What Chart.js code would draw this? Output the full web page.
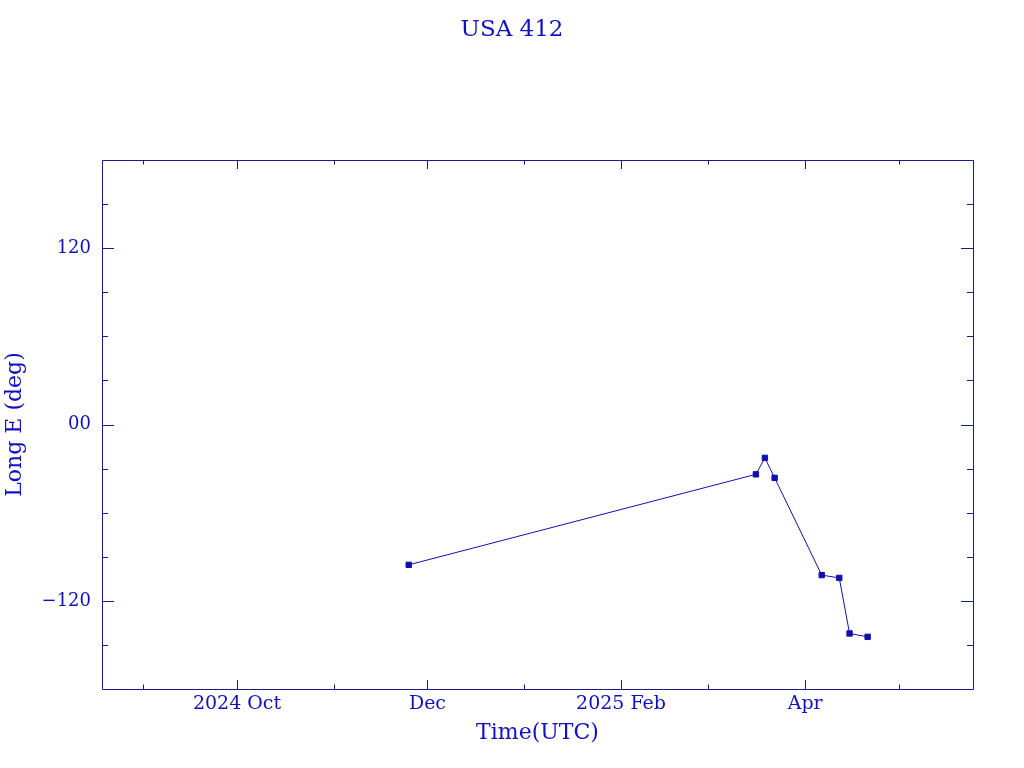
<!DOCTYPE html>
<html>
<head>
<meta charset="utf-8">
<title>USA 412</title>
<script src="https://cdn.jsdelivr.net/npm/chart.js@4"></script>
<style>
  html, body { margin: 0; padding: 0; background: #fff; }
  #wrap { width: 1024px; height: 768px; }
</style>
</head>
<body>
<div id="wrap"><canvas id="lonChart"></canvas></div>
<script>
const obsTimes = ['2024-11-25T00:00', '2025-03-16T05:00', '2025-03-19T02:00', '2025-03-22T05:00',
  '2025-04-06T07:00', '2025-04-11T22:00', '2025-04-15T05:00', '2025-04-21T00:00'];
const longE = [-95.5, -33.9, -22.7, -36.3, -102.5, -104.4, -142.2, -144.5];

const xRange = ['2024-08-18T18:00', '2025-05-24T18:00'];
const monthTicks = ['2024-09-01', '2024-10-01', '2024-11-01', '2024-12-01', '2025-01-01',
  '2025-02-01', '2025-03-01', '2025-04-01', '2025-05-01'];
const monthLabels = ['', '2024 Oct', '', 'Dec', '', '2025 Feb', '', 'Apr', ''];

const yRange = [-180, 180];
const yTicks = [-150, -120, -90, -60, -30, 0, 30, 60, 90, 120, 150];
const yLabels = ['', '\u2212120', '', '', '', '00', '', '', '', '120', ''];

const COL = {
  text: '#1010c0',
  axis: '#1a1a8c',
  line: '#1010b0'
};
const FONT = 'DejaVu Serif';

function ms(str) {
  return Date.parse(str + (str.length === 10 ? 'T00:00:00Z' : ':00Z'));
}

const points = obsTimes.map((t, i) => ({ x: ms(t), y: longE[i] }));
const xTickVals = monthTicks.map(ms);
const xLabelOf = {};
xTickVals.forEach((v, i) => { xLabelOf[v] = monthLabels[i]; });
const yLabelOf = {};
yTicks.forEach((v, i) => { yLabelOf[v] = yLabels[i]; });

// pgplot-style frame: box with inward ticks on all four sides
const framePlugin = {
  id: 'frame',
  afterDraw(chart) {
    const { ctx, chartArea: a, scales } = chart;
    ctx.save();
    ctx.strokeStyle = COL.axis;
    ctx.lineWidth = 1;
    ctx.beginPath();
    ctx.rect(Math.round(a.left) + 0.5, Math.round(a.top) + 0.5,
      Math.round(a.right - a.left), Math.round(a.bottom - a.top));
    xTickVals.forEach((v, i) => {
      const px = Math.round(scales.x.getPixelForValue(v)) + 0.5;
      const len = monthLabels[i] ? 9 : 4.5;
      ctx.moveTo(px, a.bottom); ctx.lineTo(px, a.bottom - len);
      ctx.moveTo(px, a.top); ctx.lineTo(px, a.top + len);
    });
    yTicks.forEach((v, i) => {
      const py = Math.round(scales.y.getPixelForValue(v)) + 0.5;
      const len = yLabels[i] ? 12 : 6;
      ctx.moveTo(a.left, py); ctx.lineTo(a.left + len, py);
      ctx.moveTo(a.right, py); ctx.lineTo(a.right - len, py);
    });
    ctx.stroke();
    ctx.restore();
  }
};

new Chart(document.getElementById('lonChart'), {
  type: 'line',
  data: {
    datasets: [{
      data: points,
      borderColor: COL.line,
      backgroundColor: COL.line,
      borderWidth: 1,
      pointStyle: 'rect',
      pointRadius: 3.8,
      pointBorderWidth: 1,
      pointBorderColor: COL.line,
      pointBackgroundColor: COL.line,
      tension: 0,
      fill: false
    }]
  },
  options: {
    responsive: true,
    maintainAspectRatio: false,
    animation: false,
    events: [],
    layout: { padding: 0 },
    plugins: {
      legend: { display: false },
      tooltip: { enabled: false },
      title: {
        display: true,
        text: 'USA 412',
        color: COL.text,
        font: { family: FONT, size: 23, weight: 'normal' },
        padding: { top: 16, bottom: 116.4 }
      }
    },
    scales: {
      x: {
        type: 'linear',
        min: ms(xRange[0]),
        max: ms(xRange[1]),
        afterBuildTicks(scale) {
          scale.ticks = xTickVals.filter((v, i) => monthLabels[i]).map(value => ({ value }));
        },
        afterFit(scale) { scale.height = 79; },
        ticks: {
          autoSkip: false,
          maxRotation: 0,
          padding: 4,
          color: COL.text,
          font: { family: FONT, size: 19 },
          callback: value => xLabelOf[value] || ''
        },
        grid: { display: false, drawTicks: false },
        border: { display: false },
        title: {
          display: true,
          text: 'Time(UTC)',
          color: COL.text,
          font: { family: FONT, size: 22 },
          padding: { top: 0, bottom: 22 }
        }
      },
      y: {
        type: 'linear',
        min: yRange[0],
        max: yRange[1],
        afterBuildTicks(scale) {
          scale.ticks = yTicks.filter((v, i) => yLabels[i]).map(value => ({ value }));
        },
        afterFit(scale) { scale.width = 102; },
        ticks: {
          autoSkip: false,
          padding: 11,
          color: COL.text,
          font: { family: FONT, size: 18 },
          callback: value => yLabelOf[value] || ''
        },
        grid: { display: false, drawTicks: false },
        border: { display: false },
        title: {
          display: true,
          text: 'Long E (deg)',
          color: COL.text,
          font: { family: FONT, size: 22 },
          padding: { top: 2, bottom: 0 }
        }
      },
      // empty right-hand margin so the title stays centred on the page
      yRight: {
        type: 'linear',
        position: 'right',
        display: true,
        min: yRange[0],
        max: yRange[1],
        afterFit(scale) { scale.width = 51; },
        ticks: { display: false },
        grid: { display: false, drawTicks: false },
        border: { display: false }
      }
    }
  },
  plugins: [framePlugin]
});
</script>
</body>
</html>
